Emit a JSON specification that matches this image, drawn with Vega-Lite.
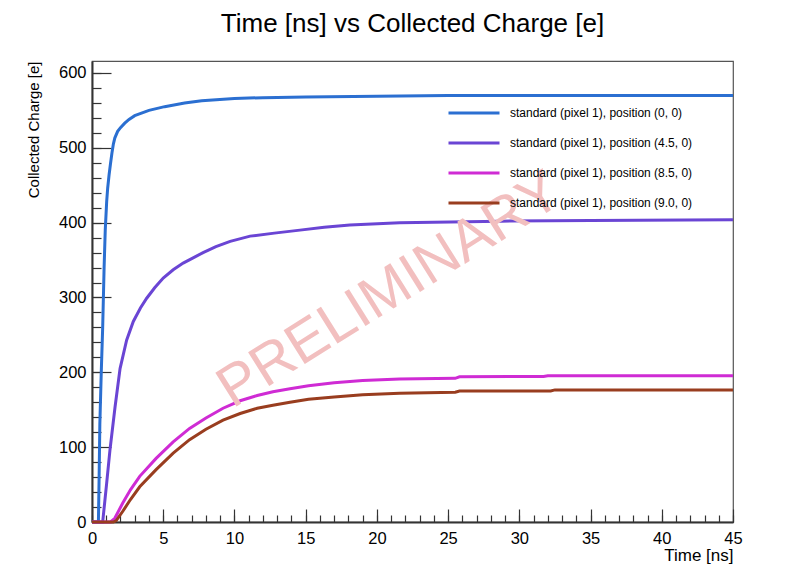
{
  "$schema": "https://vega.github.io/schema/vega-lite/v6.json",
  "width": 641,
  "height": 461,
  "autosize": {"type": "none"},
  "padding": {"left": 92, "top": 61, "right": 71, "bottom": 54},
  "background": "white",
  "config": {
    "font": "Liberation Sans",
    "view": {"stroke": "#555555", "strokeWidth": 1.2, "fill": "white"}
  },
  "title": {
    "text": "Time [ns] vs Collected Charge [e]",
    "fontSize": 26,
    "font": "Liberation Sans",
    "fontWeight": "normal",
    "color": "black",
    "anchor": "middle",
    "offset": 24
  },
  "datasets": {
    "curves": [
      {"p": "(0, 0)", "t": 0, "q": 0},
      {"p": "(0, 0)", "t": 0.45, "q": 0},
      {"p": "(0, 0)", "t": 0.5, "q": 60},
      {"p": "(0, 0)", "t": 0.55, "q": 130},
      {"p": "(0, 0)", "t": 0.65, "q": 200},
      {"p": "(0, 0)", "t": 0.75, "q": 260},
      {"p": "(0, 0)", "t": 0.85, "q": 340},
      {"p": "(0, 0)", "t": 0.93, "q": 390},
      {"p": "(0, 0)", "t": 1.03, "q": 428},
      {"p": "(0, 0)", "t": 1.1, "q": 446},
      {"p": "(0, 0)", "t": 1.2, "q": 464},
      {"p": "(0, 0)", "t": 1.3, "q": 479},
      {"p": "(0, 0)", "t": 1.4, "q": 493},
      {"p": "(0, 0)", "t": 1.5, "q": 505},
      {"p": "(0, 0)", "t": 1.6, "q": 513},
      {"p": "(0, 0)", "t": 1.8, "q": 522},
      {"p": "(0, 0)", "t": 2.0, "q": 527},
      {"p": "(0, 0)", "t": 2.3, "q": 533},
      {"p": "(0, 0)", "t": 2.6, "q": 538},
      {"p": "(0, 0)", "t": 3.0, "q": 543},
      {"p": "(0, 0)", "t": 4.0, "q": 550},
      {"p": "(0, 0)", "t": 5.1, "q": 555},
      {"p": "(0, 0)", "t": 6.5, "q": 560},
      {"p": "(0, 0)", "t": 7.7, "q": 563},
      {"p": "(0, 0)", "t": 10, "q": 566},
      {"p": "(0, 0)", "t": 12, "q": 567},
      {"p": "(0, 0)", "t": 15, "q": 568},
      {"p": "(0, 0)", "t": 20, "q": 569},
      {"p": "(0, 0)", "t": 25, "q": 570},
      {"p": "(0, 0)", "t": 45, "q": 570},
      {"p": "(4.5, 0)", "t": 0, "q": 0},
      {"p": "(4.5, 0)", "t": 0.75, "q": 0},
      {"p": "(4.5, 0)", "t": 1.03, "q": 52},
      {"p": "(4.5, 0)", "t": 1.26, "q": 96},
      {"p": "(4.5, 0)", "t": 1.62, "q": 154},
      {"p": "(4.5, 0)", "t": 1.97, "q": 205},
      {"p": "(4.5, 0)", "t": 2.43, "q": 243},
      {"p": "(4.5, 0)", "t": 2.9, "q": 268},
      {"p": "(4.5, 0)", "t": 3.4, "q": 286},
      {"p": "(4.5, 0)", "t": 3.84, "q": 299},
      {"p": "(4.5, 0)", "t": 4.4, "q": 313},
      {"p": "(4.5, 0)", "t": 5.0, "q": 326},
      {"p": "(4.5, 0)", "t": 5.7, "q": 337},
      {"p": "(4.5, 0)", "t": 6.4, "q": 346},
      {"p": "(4.5, 0)", "t": 7.1, "q": 353},
      {"p": "(4.5, 0)", "t": 7.8, "q": 360},
      {"p": "(4.5, 0)", "t": 8.7, "q": 368},
      {"p": "(4.5, 0)", "t": 9.7, "q": 375},
      {"p": "(4.5, 0)", "t": 11.1, "q": 382},
      {"p": "(4.5, 0)", "t": 12.8, "q": 386},
      {"p": "(4.5, 0)", "t": 14.6, "q": 390},
      {"p": "(4.5, 0)", "t": 16.3, "q": 394},
      {"p": "(4.5, 0)", "t": 18.1, "q": 397},
      {"p": "(4.5, 0)", "t": 21.6, "q": 400},
      {"p": "(4.5, 0)", "t": 28.7, "q": 402},
      {"p": "(4.5, 0)", "t": 35, "q": 403},
      {"p": "(4.5, 0)", "t": 45, "q": 404},
      {"p": "(8.5, 0)", "t": 0, "q": 0},
      {"p": "(8.5, 0)", "t": 1.3, "q": 0},
      {"p": "(8.5, 0)", "t": 1.6, "q": 5},
      {"p": "(8.5, 0)", "t": 2.15, "q": 25},
      {"p": "(8.5, 0)", "t": 2.7, "q": 43},
      {"p": "(8.5, 0)", "t": 3.35, "q": 61},
      {"p": "(8.5, 0)", "t": 4.5, "q": 85},
      {"p": "(8.5, 0)", "t": 5.7, "q": 107},
      {"p": "(8.5, 0)", "t": 6.85, "q": 125},
      {"p": "(8.5, 0)", "t": 8.0, "q": 139},
      {"p": "(8.5, 0)", "t": 9.2, "q": 152},
      {"p": "(8.5, 0)", "t": 10.4, "q": 162},
      {"p": "(8.5, 0)", "t": 11.6, "q": 169},
      {"p": "(8.5, 0)", "t": 12.7, "q": 174},
      {"p": "(8.5, 0)", "t": 13.9, "q": 178},
      {"p": "(8.5, 0)", "t": 15.2, "q": 182},
      {"p": "(8.5, 0)", "t": 17, "q": 186},
      {"p": "(8.5, 0)", "t": 19, "q": 189},
      {"p": "(8.5, 0)", "t": 21.6, "q": 191},
      {"p": "(8.5, 0)", "t": 25.5, "q": 192},
      {"p": "(8.5, 0)", "t": 25.8, "q": 194},
      {"p": "(8.5, 0)", "t": 31.7, "q": 194.5},
      {"p": "(8.5, 0)", "t": 32, "q": 195.5},
      {"p": "(8.5, 0)", "t": 45, "q": 195.5},
      {"p": "(9.0, 0)", "t": 0, "q": 0},
      {"p": "(9.0, 0)", "t": 1.5, "q": 0},
      {"p": "(9.0, 0)", "t": 1.7, "q": 2},
      {"p": "(9.0, 0)", "t": 2.15, "q": 14},
      {"p": "(9.0, 0)", "t": 2.7, "q": 30},
      {"p": "(9.0, 0)", "t": 3.35, "q": 47},
      {"p": "(9.0, 0)", "t": 4.5, "q": 70},
      {"p": "(9.0, 0)", "t": 5.7, "q": 92},
      {"p": "(9.0, 0)", "t": 6.85, "q": 110},
      {"p": "(9.0, 0)", "t": 8.0, "q": 124},
      {"p": "(9.0, 0)", "t": 9.2, "q": 136},
      {"p": "(9.0, 0)", "t": 10.4, "q": 145},
      {"p": "(9.0, 0)", "t": 11.6, "q": 152},
      {"p": "(9.0, 0)", "t": 12.7, "q": 156},
      {"p": "(9.0, 0)", "t": 13.9, "q": 160},
      {"p": "(9.0, 0)", "t": 15.2, "q": 164},
      {"p": "(9.0, 0)", "t": 17, "q": 167},
      {"p": "(9.0, 0)", "t": 19, "q": 170},
      {"p": "(9.0, 0)", "t": 21.6, "q": 172},
      {"p": "(9.0, 0)", "t": 25.5, "q": 173.5},
      {"p": "(9.0, 0)", "t": 25.8, "q": 175},
      {"p": "(9.0, 0)", "t": 32.2, "q": 175},
      {"p": "(9.0, 0)", "t": 32.5, "q": 176.5},
      {"p": "(9.0, 0)", "t": 45, "q": 176.5}
    ],
    "watermark": [
      {"t": 20.9, "q": 309, "label": "PRELIMINARY"}
    ]
  },
  "resolve": {"axis": {"x": "independent", "y": "independent"}},
  "layer": [
    {
      "data": {"name": "curves"},
      "mark": {"type": "line", "strokeOpacity": 0},
      "encoding": {
        "x": {
          "field": "t",
          "type": "quantitative",
          "scale": {"domain": [0, 45], "nice": false, "zero": false},
          "axis": {
            "orient": "bottom",
            "title": null,
            "values": [0,1,2,3,4,5,6,7,8,9,10,11,12,13,14,15,16,17,18,19,20,21,22,23,24,25,26,27,28,29,30,31,32,33,34,35,36,37,38,39,40,41,42,43,44,45],
            "labels": false,
            "domain": false,
            "grid": false,
            "tickSize": -7,
            "tickColor": "#333333",
            "tickWidth": 1.2
          }
        },
        "y": {
          "field": "q",
          "type": "quantitative",
          "scale": {"domain": [0, 616], "nice": false},
          "axis": {
            "orient": "left",
            "title": null,
            "values": [0,20,40,60,80,100,120,140,160,180,200,220,240,260,280,300,320,340,360,380,400,420,440,460,480,500,520,540,560,580,600],
            "labels": false,
            "domain": false,
            "grid": false,
            "tickSize": -9,
            "tickColor": "#333333",
            "tickWidth": 1.2
          }
        },
        "detail": {"field": "p"}
      }
    },
    {
      "data": {"name": "curves"},
      "mark": {"type": "line", "strokeWidth": 3, "interpolate": "linear"},
      "encoding": {
        "x": {
          "field": "t",
          "type": "quantitative",
          "axis": {
            "orient": "bottom",
            "title": "Time [ns]",
            "titleAnchor": "end",
            "titleAlign": "right",
            "titleFontSize": 17,
            "titleFontWeight": "normal",
            "titleColor": "black",
            "titlePadding": 1,
            "values": [0,5,10,15,20,25,30,35,40,45],
            "labelFontSize": 16.5,
            "labelColor": "black",
            "labelPadding": 21,
            "labelFlush": false,
            "labelOverlap": false,
            "tickSize": -13,
            "tickColor": "#333333",
            "tickWidth": 1.2,
            "domainColor": "#333333",
            "domainWidth": 2,
            "grid": false
          }
        },
        "y": {
          "field": "q",
          "type": "quantitative",
          "axis": {
            "orient": "left",
            "title": "Collected Charge [e]",
            "titleAnchor": "end",
            "titleAlign": "right",
            "titleFontSize": 15,
            "titleFontWeight": "normal",
            "titleColor": "black",
            "titlePadding": 17,
            "values": [0,100,200,300,400,500,600],
            "labelFontSize": 16.5,
            "labelColor": "black",
            "labelPadding": 25,
            "labelFlush": false,
            "labelOverlap": false,
            "tickSize": -19,
            "tickColor": "#333333",
            "tickWidth": 1.2,
            "domainColor": "#333333",
            "domainWidth": 2,
            "grid": false
          }
        },
        "color": {
          "field": "p",
          "type": "nominal",
          "scale": {
            "domain": ["(0, 0)", "(4.5, 0)", "(8.5, 0)", "(9.0, 0)"],
            "range": ["#2b6fd1", "#6a45d4", "#cf2bd4", "#993d1f"]
          },
          "legend": {
            "title": null,
            "orient": "none",
            "legendX": 355,
            "legendY": 37,
            "padding": 0,
            "symbolType": "stroke",
            "symbolSize": 2601,
            "symbolStrokeWidth": 3,
            "labelFontSize": 12,
            "labelColor": "black",
            "labelOffset": 9,
            "labelLimit": 400,
            "clipHeight": 30,
            "rowPadding": 0,
            "labelExpr": "'standard (pixel 1), position ' + datum.label"
          }
        }
      }
    },
    {
      "data": {"name": "watermark"},
      "mark": {
        "type": "text",
        "angle": -32,
        "fontSize": 58,
        "font": "Liberation Sans",
        "color": "#f2bfbf",
        "align": "center",
        "baseline": "middle"
      },
      "encoding": {
        "x": {"field": "t", "type": "quantitative", "axis": null},
        "y": {"field": "q", "type": "quantitative", "axis": null},
        "text": {"field": "label"}
      }
    }
  ]
}
